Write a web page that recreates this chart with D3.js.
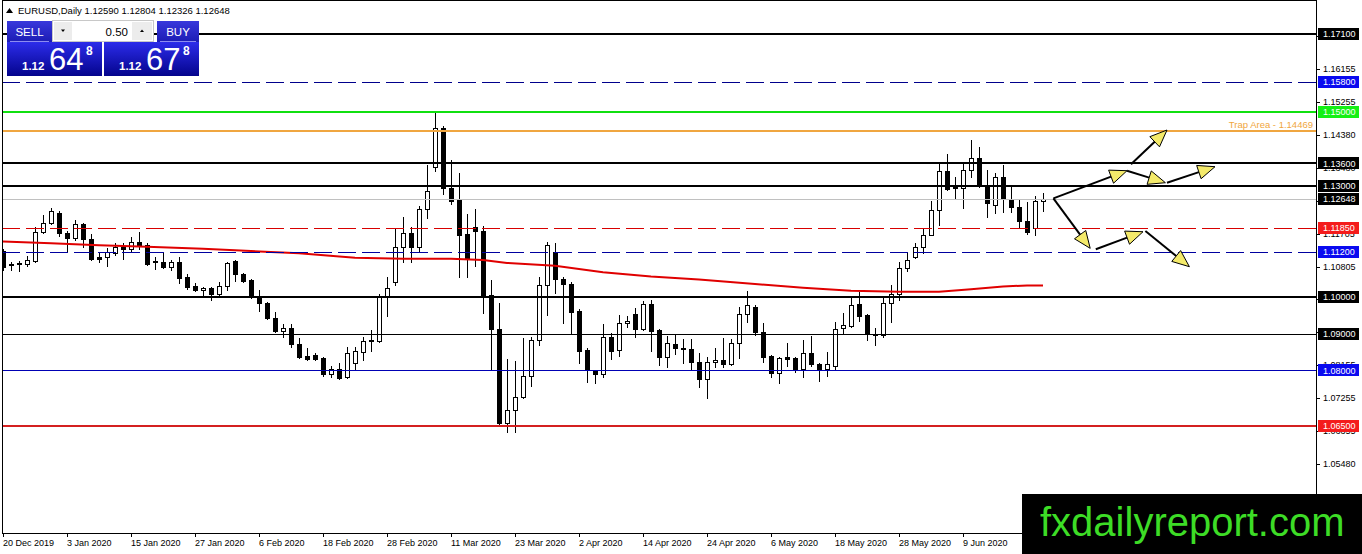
<!DOCTYPE html>
<html>
<head>
<meta charset="utf-8">
<title>EURUSD,Daily</title>
<script src="https://cdn.jsdelivr.net/npm/d3@7/dist/d3.min.js"></script>
<style>
  body { margin: 0; background: #fff; }
  svg { display: block; font-family: "Liberation Sans", Arial, sans-serif; }
</style>
</head>
<body>
<div id="chart"></div>
<script>
// daily bars: date, open, high, low, close
var candles = [
  ["2019-12-20",1.1123,1.1129,1.1072,1.1080], ["2019-12-23",1.1085,1.1093,1.1072,1.1088],
  ["2019-12-24",1.1090,1.1096,1.1069,1.1091], ["2019-12-26",1.1088,1.1110,1.1083,1.1099],
  ["2019-12-27",1.1096,1.1188,1.1093,1.1175], ["2019-12-30",1.1175,1.1221,1.1172,1.1199],
  ["2019-12-31",1.1199,1.1240,1.1196,1.1231], ["2020-01-02",1.1226,1.1231,1.1164,1.1172],
  ["2020-01-03",1.1172,1.1177,1.1123,1.1158], ["2020-01-06",1.1158,1.1207,1.1153,1.1196],
  ["2020-01-07",1.1196,1.1199,1.1134,1.1156], ["2020-01-08",1.1155,1.1169,1.1099,1.1102],
  ["2020-01-09",1.1107,1.1118,1.1093,1.1102], ["2020-01-10",1.1107,1.1131,1.1083,1.1120],
  ["2020-01-13",1.1118,1.1145,1.1112,1.1134], ["2020-01-14",1.1134,1.1145,1.1102,1.1129],
  ["2020-01-15",1.1129,1.1161,1.1120,1.1148], ["2020-01-16",1.1148,1.1175,1.1129,1.1139],
  ["2020-01-17",1.1139,1.1145,1.1085,1.1088], ["2020-01-20",1.1096,1.1107,1.1075,1.1093],
  ["2020-01-21",1.1093,1.1118,1.1077,1.1080], ["2020-01-22",1.1080,1.1099,1.1072,1.1093],
  ["2020-01-23",1.1093,1.1107,1.1037,1.1050], ["2020-01-24",1.1053,1.1061,1.1020,1.1026],
  ["2020-01-27",1.1029,1.1037,1.1015,1.1018], ["2020-01-28",1.1018,1.1026,1.0999,1.1023],
  ["2020-01-29",1.1023,1.1026,1.0991,1.1007], ["2020-01-30",1.1007,1.1039,1.1004,1.1029],
  ["2020-01-31",1.1029,1.1093,1.1018,1.1091], ["2020-02-03",1.1096,1.1098,1.1042,1.1061],
  ["2020-02-04",1.1061,1.1064,1.1039,1.1042], ["2020-02-05",1.1045,1.1047,1.0996,1.0999],
  ["2020-02-06",1.0999,1.1018,1.0961,1.0982], ["2020-02-07",1.0982,1.0984,1.0939,1.0942],
  ["2020-02-10",1.0942,1.0958,1.0904,1.0907], ["2020-02-11",1.0907,1.0926,1.0891,1.0915],
  ["2020-02-12",1.0915,1.0926,1.0864,1.0872], ["2020-02-13",1.0872,1.0888,1.0834,1.0837],
  ["2020-02-14",1.0839,1.0861,1.0828,1.0831], ["2020-02-17",1.0842,1.0847,1.0828,1.0831],
  ["2020-02-18",1.0834,1.0836,1.0785,1.0790], ["2020-02-19",1.0790,1.0812,1.0782,1.0804],
  ["2020-02-20",1.0804,1.0820,1.0777,1.0780], ["2020-02-21",1.0782,1.0864,1.0780,1.0847],
  ["2020-02-24",1.0820,1.0864,1.0804,1.0853], ["2020-02-25",1.0850,1.0891,1.0828,1.0880],
  ["2020-02-26",1.0882,1.0909,1.0853,1.0880], ["2020-02-27",1.0880,1.1007,1.0877,1.0999],
  ["2020-02-28",1.0999,1.1053,1.0947,1.1023], ["2020-03-02",1.1040,1.1185,1.1030,1.1134],
  ["2020-03-03",1.1134,1.1215,1.1093,1.1172], ["2020-03-04",1.1172,1.1188,1.1093,1.1134],
  ["2020-03-05",1.1134,1.1245,1.1120,1.1237], ["2020-03-06",1.1237,1.1356,1.1212,1.1285],
  ["2020-03-09",1.1350,1.1496,1.1340,1.1456], ["2020-03-10",1.1456,1.1461,1.1277,1.1294],
  ["2020-03-11",1.1294,1.1369,1.1250,1.1258], ["2020-03-12",1.1261,1.1334,1.1053,1.1166],
  ["2020-03-13",1.1169,1.1223,1.1053,1.1104], ["2020-03-16",1.1188,1.1237,1.1083,1.1177],
  ["2020-03-17",1.1177,1.1191,1.0955,1.1004], ["2020-03-18",1.1004,1.1045,1.0801,1.0912],
  ["2020-03-19",1.0912,1.0982,1.0652,1.0658], ["2020-03-20",1.0658,1.0831,1.0634,1.0693],
  ["2020-03-23",1.0693,1.0826,1.0634,1.0728], ["2020-03-24",1.0728,1.0888,1.0725,1.0785],
  ["2020-03-25",1.0785,1.0891,1.0758,1.0882], ["2020-03-26",1.0882,1.1053,1.0869,1.1031],
  ["2020-03-27",1.1031,1.1148,1.0950,1.1139], ["2020-03-30",1.1120,1.1145,1.1010,1.1047],
  ["2020-03-31",1.1047,1.1053,1.0928,1.1034], ["2020-04-01",1.1034,1.1039,1.0901,1.0958],
  ["2020-04-02",1.0961,1.0966,1.0820,1.0853], ["2020-04-03",1.0855,1.0861,1.0769,1.0801],
  ["2020-04-06",1.0799,1.0801,1.0766,1.0790], ["2020-04-07",1.0790,1.0926,1.0782,1.0891],
  ["2020-04-08",1.0891,1.0901,1.0831,1.0853], ["2020-04-09",1.0855,1.0950,1.0839,1.0928],
  ["2020-04-10",1.0928,1.0947,1.0918,1.0934], ["2020-04-13",1.0953,1.0969,1.0891,1.0912],
  ["2020-04-14",1.0912,1.0988,1.0910,1.0980], ["2020-04-15",1.0980,1.0991,1.0853,1.0907],
  ["2020-04-16",1.0910,1.0912,1.0815,1.0837], ["2020-04-17",1.0837,1.0893,1.0809,1.0874],
  ["2020-04-20",1.0872,1.0896,1.0845,1.0861], ["2020-04-21",1.0861,1.0885,1.0820,1.0858],
  ["2020-04-22",1.0858,1.0885,1.0801,1.0823], ["2020-04-23",1.0823,1.0847,1.0755,1.0777],
  ["2020-04-24",1.0777,1.0837,1.0725,1.0823], ["2020-04-27",1.0823,1.0861,1.0809,1.0828],
  ["2020-04-28",1.0828,1.0888,1.0809,1.0818], ["2020-04-29",1.0818,1.0885,1.0815,1.0874],
  ["2020-04-30",1.0874,1.0972,1.0834,1.0953], ["2020-05-01",1.0953,1.1015,1.0931,1.0977],
  ["2020-05-04",1.0972,1.0977,1.0896,1.0904], ["2020-05-05",1.0904,1.0928,1.0823,1.0837],
  ["2020-05-06",1.0839,1.0842,1.0782,1.0793], ["2020-05-07",1.0793,1.0836,1.0766,1.0834],
  ["2020-05-08",1.0837,1.0874,1.0812,1.0831], ["2020-05-11",1.0834,1.0837,1.0796,1.0804],
  ["2020-05-12",1.0804,1.0882,1.0782,1.0847], ["2020-05-13",1.0847,1.0893,1.0812,1.0818],
  ["2020-05-14",1.0818,1.0820,1.0772,1.0804], ["2020-05-15",1.0804,1.0850,1.0785,1.0818],
  ["2020-05-18",1.0812,1.0931,1.0801,1.0912], ["2020-05-19",1.0915,1.0955,1.0901,1.0923],
  ["2020-05-20",1.0920,1.0999,1.0918,1.0977], ["2020-05-21",1.0980,1.1012,1.0934,1.0947],
  ["2020-05-22",1.0950,1.0953,1.0882,1.0901], ["2020-05-25",1.0899,1.0915,1.0869,1.0896],
  ["2020-05-26",1.0896,1.0996,1.0891,1.0982], ["2020-05-27",1.0982,1.1031,1.0931,1.1007],
  ["2020-05-28",1.1007,1.1093,1.0991,1.1077], ["2020-05-29",1.1077,1.1118,1.1069,1.1099],
  ["2020-06-01",1.1107,1.1145,1.1104,1.1134], ["2020-06-02",1.1134,1.1183,1.1118,1.1166],
  ["2020-06-03",1.1166,1.1258,1.1166,1.1234], ["2020-06-04",1.1234,1.1361,1.1194,1.1340],
  ["2020-06-05",1.1340,1.1386,1.1288,1.1291], ["2020-06-08",1.1296,1.1323,1.1266,1.1294],
  ["2020-06-09",1.1294,1.1364,1.1240,1.1342], ["2020-06-10",1.1342,1.1423,1.1323,1.1375],
  ["2020-06-11",1.1375,1.1405,1.1296,1.1299], ["2020-06-12",1.1299,1.1342,1.1215,1.1253],
  ["2020-06-15",1.1248,1.1334,1.1226,1.1323], ["2020-06-16",1.1323,1.1356,1.1229,1.1264],
  ["2020-06-17",1.1264,1.1296,1.1229,1.1242], ["2020-06-18",1.1242,1.1264,1.1185,1.1204],
  ["2020-06-19",1.1204,1.1256,1.1169,1.1175], ["2020-06-22",1.1185,1.1272,1.1166,1.1258],
  ["2020-06-23",1.12590,1.12804,1.12326,1.12648]
];

// red moving average at a few bars
var maPoints = [
  ["2019-12-20",1.1149], ["2019-12-31",1.1144], ["2020-01-09",1.1139], ["2020-01-17",1.1135],
  ["2020-01-28",1.1129], ["2020-02-05",1.1123], ["2020-02-13",1.1117], ["2020-02-24",1.1105],
  ["2020-03-03",1.1102], ["2020-03-11",1.1102], ["2020-03-17",1.1099], ["2020-03-20",1.1091],
  ["2020-03-30",1.1083], ["2020-04-07",1.1066], ["2020-04-15",1.1054], ["2020-04-23",1.1046],
  ["2020-05-04",1.1034], ["2020-05-12",1.1024], ["2020-05-20",1.1016], ["2020-05-28",1.1013],
  ["2020-06-04",1.1013], ["2020-06-10",1.1020], ["2020-06-16",1.1027], ["2020-06-19",1.1030],
  ["2020-06-23",1.1030]
];

// horizontal levels drawn on the chart
var levelPrices = [1.17100, 1.15800, 1.15000, 1.14469, 1.13600, 1.13000, 1.11850, 1.11200, 1.10000, 1.09000, 1.08000, 1.06500];
var trapLabel = "Trap Area - 1.14469";

var yTickValues = [1.17055, 1.16155, 1.15255, 1.14380, 1.13480, 1.12580, 1.11705, 1.10805,
                   1.09930, 1.09030, 1.08155, 1.07255, 1.06355, 1.05480, 1.04580];
var xTickDates = ["2019-12-20","2020-01-03","2020-01-15","2020-01-27","2020-02-06","2020-02-18",
                  "2020-02-28","2020-03-11","2020-03-23","2020-04-02","2020-04-14","2020-04-24",
                  "2020-05-06","2020-05-18","2020-05-28","2020-06-09"];

var symbol = "EURUSD,Daily";
var lotSize = "0.50";
var askPrice = 1.12678;

// scenario arrows: from bar, from price, to bar, to price (bars past the last one are future)
var arrows = [
  [131.3, 1.12657, 140.5, 1.13404],
  [140.5, 1.13404, 145.3, 1.13079],
  [145.5, 1.13079, 151.5, 1.13512],
  [141.0, 1.13577, 145.5, 1.14504],
  [131.3, 1.12657, 135.9, 1.11304],
  [136.6, 1.11278, 142.5, 1.11753],
  [142.8, 1.11773, 148.3, 1.10807]
];
var brand = "fxdailyreport.com";

var width = 1362, height = 554;
var plotLeft = 2, plotRight = 1316, plotBottom = 533;

var parseDate = d3.timeParse("%Y-%m-%d");
var fmtDate = d3.timeFormat("%-d %b %Y");
var fmt5 = d3.format(".5f");
var barIndex = new Map(candles.map(function(d, i) { return [d[0], i]; }));

var x = d3.scaleLinear().domain([0, candles.length - 1]).range([3, 1043]);
var y = d3.scaleLinear().domain([1.03469, 1.18021]).range([538, 0]);

function px(v, w) { return (w % 2) ? Math.round(v) + 0.5 : Math.round(v); }

var svg = d3.select("#chart").append("svg")
  .attr("width", width).attr("height", height);
var defs = svg.append("defs");
defs.append("clipPath").attr("id", "plot").append("rect")
  .attr("x", plotLeft).attr("y", 0).attr("width", plotRight - plotLeft).attr("height", plotBottom);

function grad(id, top, bottom) {
  var lg = defs.append("linearGradient").attr("id", id).attr("x1", 0).attr("y1", 0).attr("x2", 0).attr("y2", 1);
  lg.append("stop").attr("offset", "0%").attr("stop-color", top);
  lg.append("stop").attr("offset", "100%").attr("stop-color", bottom);
}
grad("btn", "#3838dc", "#1c1cb4");
grad("price", "#2c2cea", "#04048c");

svg.append("rect").attr("width", width).attr("height", height).attr("fill", "#fff");

var plot = svg.append("g").attr("clip-path", "url(#plot)");

// candles
var bar = plot.append("g").attr("shape-rendering", "crispEdges")
  .selectAll("g").data(candles).enter().append("g");
bar.append("line")
  .attr("x1", function(d, i) { return x(i) + 0.5; })
  .attr("x2", function(d, i) { return x(i) + 0.5; })
  .attr("y1", function(d) { return Math.round(y(d[2])); })
  .attr("y2", function(d) { return Math.round(y(d[3])) + 1; })
  .attr("stroke", "#000");
bar.append("rect")
  .attr("x", function(d, i) { return x(i) - 1.5; })
  .attr("y", function(d) { return Math.round(y(Math.max(d[1], d[4]))) + 0.5; })
  .attr("width", 4)
  .attr("height", function(d) {
    return Math.max(1, Math.round(y(Math.min(d[1], d[4]))) - Math.round(y(Math.max(d[1], d[4]))));
  })
  .attr("fill", function(d) { return d[4] >= d[1] ? "#fff" : "#000"; })
  .attr("stroke", "#000");

// moving average, it runs on past the left edge
var maLine = d3.line()
  .x(function(d) { return x(barIndex.get(d[0])); })
  .y(function(d) { return y(d[1]); });
plot.append("path")
  .datum(maPoints)
  .attr("fill", "none").attr("stroke", "#e00000").attr("stroke-width", 2)
  .attr("d", "M" + plotLeft + "," + y(maPoints[0][1]) + "L" + maLine(maPoints).slice(1));

// levels
var levelStyle = [
  { c: "#000", w: 2, box: "#000" },
  { c: "#00008c", w: 1, dash: "18,6", box: "#0a0af0" },
  { c: "#10e010", w: 2, box: "#14f014" },
  { c: "#f0a640", w: 2 },
  { c: "#000", w: 2, box: "#000" },
  { c: "#000", w: 2, box: "#000" },
  { c: "#d80000", w: 1, dash: "18,6", box: "#f41c1c" },
  { c: "#0000a0", w: 1, dash: "18,6", box: "#0a0af0" },
  { c: "#000", w: 2, box: "#000" },
  { c: "#000", w: 1, box: "#000" },
  { c: "#0000b4", w: 1, box: "#0a0af0" },
  { c: "#d42020", w: 2, box: "#f41c1c" }
];
var lastClose = candles[candles.length - 1][4];

plot.append("line")
  .attr("x1", plotLeft).attr("x2", plotRight)
  .attr("y1", px(y(lastClose), 1)).attr("y2", px(y(lastClose), 1))
  .attr("stroke", "#c0c0c0");

plot.append("g").selectAll("line").data(levelPrices).enter().append("line")
  .attr("x1", plotLeft).attr("x2", plotRight)
  .attr("y1", function(d, i) { return px(y(d), levelStyle[i].w); })
  .attr("y2", function(d, i) { return px(y(d), levelStyle[i].w); })
  .attr("stroke", function(d, i) { return levelStyle[i].c; })
  .attr("stroke-width", function(d, i) { return levelStyle[i].w; })
  .attr("stroke-dasharray", function(d, i) { return levelStyle[i].dash || null; })
  .attr("shape-rendering", "crispEdges");

var trapPrice = levelPrices[3];
plot.append("text")
  .attr("x", plotRight - 3).attr("y", y(trapPrice) - 3)
  .attr("text-anchor", "end").attr("font-size", 9.5).attr("fill", "#f0a640")
  .text(trapLabel);

// scenario arrows
var ag = plot.append("g");
arrows.forEach(function(a) {
  var x1 = x(a[0]), y1 = y(a[1]), x2 = x(a[2]), y2 = y(a[3]);
  var dx = x2 - x1, dy = y2 - y1, len = Math.sqrt(dx * dx + dy * dy);
  var ux = dx / len, uy = dy / len, hl = 17, hw = 7;
  var bx = x2 - ux * hl, by = y2 - uy * hl;
  ag.append("line").attr("x1", x1).attr("y1", y1).attr("x2", bx).attr("y2", by)
    .attr("stroke", "#000").attr("stroke-width", 2);
  ag.append("path")
    .attr("d", "M" + x2 + "," + y2 + "L" + (bx - uy * hw) + "," + (by + ux * hw) +
               "L" + (bx + uy * hw) + "," + (by - ux * hw) + "Z")
    .attr("fill", "#f4ea6a").attr("stroke", "#000").attr("stroke-width", 1);
});

// frame
svg.append("rect")
  .attr("x", plotLeft + 0.5).attr("y", 0.5)
  .attr("width", plotRight - plotLeft).attr("height", plotBottom)
  .attr("fill", "none").attr("stroke", "#000").attr("shape-rendering", "crispEdges");

// price axis
var yAxis = svg.append("g").attr("font-size", 9).attr("shape-rendering", "crispEdges");
yAxis.selectAll("line").data(yTickValues).enter().append("line")
  .attr("x1", plotRight).attr("x2", plotRight + 4)
  .attr("y1", function(d) { return px(y(d), 1); })
  .attr("y2", function(d) { return px(y(d), 1); })
  .attr("stroke", "#000");
yAxis.selectAll("text").data(yTickValues).enter().append("text")
  .attr("x", plotRight + 7).attr("y", function(d) { return y(d); })
  .attr("dy", "0.35em").attr("fill", "#000")
  .text(function(d) { return fmt5(d); });

// level price boxes
var boxes = levelPrices.map(function(p, i) { return { p: p, box: levelStyle[i].box }; })
  .filter(function(d) { return d.box; });
boxes.push({ p: lastClose, box: "#000" });
var bg = svg.append("g").attr("font-size", 9);
bg.selectAll("rect").data(boxes).enter().append("rect")
  .attr("x", plotRight + 2).attr("y", function(d) { return Math.round(y(d.p)) - 6; })
  .attr("width", 41).attr("height", 12)
  .attr("fill", function(d) { return d.box; });
bg.selectAll("text").data(boxes).enter().append("text")
  .attr("x", plotRight + 7).attr("y", function(d) { return y(d.p); })
  .attr("dy", "0.35em").attr("fill", "#fff")
  .text(function(d) { return fmt5(d.p); });

// time axis
var xAxis = svg.append("g").attr("font-size", 9);
xAxis.selectAll("line").data(xTickDates).enter().append("line")
  .attr("x1", function(d) { return x(barIndex.get(d)) + 0.5; })
  .attr("x2", function(d) { return x(barIndex.get(d)) + 0.5; })
  .attr("y1", plotBottom).attr("y2", plotBottom + 4)
  .attr("stroke", "#000").attr("shape-rendering", "crispEdges");
xAxis.selectAll("text").data(xTickDates).enter().append("text")
  .attr("x", function(d) { return x(barIndex.get(d)); })
  .attr("y", plotBottom + 13).attr("fill", "#000")
  .text(function(d) { return fmtDate(parseDate(d)); });

// header line
var last = candles[candles.length - 1];
svg.append("path").attr("d", "M6,13L9.5,8L13,13Z").attr("fill", "#000");
svg.append("text").attr("x", 18).attr("y", 14).attr("font-size", 9.5).attr("fill", "#000")
  .text(symbol + " " + [last[1], last[2], last[3], last[4]].map(fmt5).join(" "));

// one-click trading panel
var panel = svg.append("g");
function priceBox(x0, price) {
  var s = price.toFixed(5);
  panel.append("rect").attr("x", x0).attr("y", 42).attr("width", 95).attr("height", 34).attr("fill", "url(#price)");
  panel.append("text").attr("x", x0 + 15).attr("y", 70).attr("font-size", 11.5).attr("font-weight", "bold")
    .attr("fill", "#fff").text(s.slice(0, 4));
  panel.append("text").attr("x", x0 + 42).attr("y", 70).attr("font-size", 31)
    .attr("fill", "#fff").text(s.slice(4, 6));
  panel.append("text").attr("x", x0 + 79).attr("y", 55).attr("font-size", 12).attr("font-weight", "bold")
    .attr("fill", "#fff").text(s.slice(6));
}
function button(x0, w, label) {
  panel.append("rect").attr("x", x0).attr("y", 21).attr("width", w).attr("height", 21).attr("fill", "url(#btn)");
  panel.append("line").attr("x1", x0 + 3).attr("x2", x0 + w - 3).attr("y1", 41.5).attr("y2", 41.5)
    .attr("stroke", "#8c8cf0");
  panel.append("text").attr("x", x0 + w / 2).attr("y", 35.5).attr("text-anchor", "middle")
    .attr("font-size", 11.5).attr("fill", "#fff").text(label);
}
button(7, 45, "SELL");
button(157, 42, "BUY");
panel.append("rect").attr("x", 52.5).attr("y", 20.5).attr("width", 101).attr("height", 21)
  .attr("fill", "#fff").attr("stroke", "#c8c8c8");
panel.append("rect").attr("x", 54).attr("y", 22).attr("width", 18).attr("height", 18).attr("fill", "#ececec");
panel.append("rect").attr("x", 132).attr("y", 22).attr("width", 20).attr("height", 18).attr("fill", "#ececec");
panel.append("path").attr("d", "M61,29.5L65,29.5L63,32Z").attr("fill", "#000");
panel.append("path").attr("d", "M140,32L144,32L142,29.5Z").attr("fill", "#000");
panel.append("text").attr("x", 128).attr("y", 35.5).attr("text-anchor", "end")
  .attr("font-size", 11.5).attr("fill", "#000").text(lotSize);
priceBox(7, lastClose);
priceBox(104, askPrice);

// watermark
svg.append("rect").attr("x", 1022).attr("y", 494).attr("width", width - 1022).attr("height", height - 494)
  .attr("fill", "#000");
svg.append("text").attr("x", 1040).attr("y", 536).attr("font-size", 40).attr("fill", "#3ddc26")
  .text(brand);
</script>
</body>
</html>
